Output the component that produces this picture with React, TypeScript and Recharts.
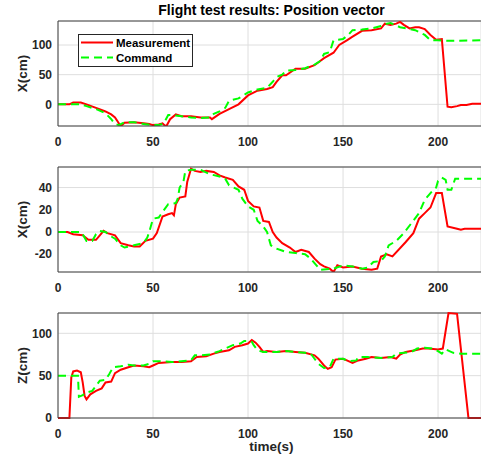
import React from 'react';
import { LineChart, Line, XAxis, YAxis, CartesianGrid, ReferenceLine } from 'recharts';

// ---------- Data (time in s, position in cm) ----------
const xTicks = [0, 50, 100, 150, 200];
const timeMax = 222.6;

const xMeasT = [0,6,8,12,15,20,25,28,30,32,33,35,40,45,48,50,53,55,56,57,59,62,65,70,75,80,81,85,90,95,100,105,110,113,115,118,120,125,130,135,140,145,148,152,155,160,165,170,172,175,178,180,182,185,188,190,193,196,199,202,205,207,210,212,215,218,222.6];
const xMeasV = [0,0,3,3,0,-6,-12,-17,-22,-32,-37,-31,-30,-32,-33,-35,-34,-32,-35,-37,-25,-17,-20,-20,-22,-22,-25,-16,-8,0,15,23,26,29,38,49,49,60,60,66,78,87,100,108,114,124,125,128,136,134,136,139,134,128,130,130,127,117,109,110,-4,-5,-3,-1,-1,1,1];
const xCmdT = [0,12,15,20,25,28,30,32,35,40,45,50,53,55,56,58,60,65,70,75,80,82,85,88,90,95,100,105,110,113,115,118,120,125,130,135,138,140,143,145,150,153,155,160,165,170,173,175,178,180,185,188,190,193,196,200,205,222.6];
const xCmdV = [0,0,-3,-8,-15,-25,-33,-35,-30,-30,-33,-35,-35,-33,-30,-18,-18,-20,-22,-23,-22,-16,-12,-6,6,10,20,25,28,38,46,50,57,58,61,67,73,85,88,108,110,118,125,126,128,132,136,137,133,130,127,125,122,117,108,108,107,108];

const yMeasT = [0,5,8,13,16,20,22,24,26,30,33,37,40,43,46,50,52,55,58,60,61,62,64,67,68,70,72,75,78,82,85,88,92,95,98,100,103,106,108,111,113,115,118,122,125,128,132,135,138,140,143,145,147,150,155,160,165,168,170,173,176,183,187,190,193,196,199,202,205,210,212,214,222.6];
const yMeasV = [0,0,-2,-3,-7,-7,-3,1,-1,-3,-10,-12,-13,-13,-8,-6,-1,14,16,17,15,25,31,32,45,57,55,54,55,54,51,49,47,41,38,28,23,22,10,9,0,-5,-10,-14,-18,-16,-18,-24,-29,-31,-33,-36,-30,-32,-31,-33,-34,-33,-22,-20,-22,-9,-1,12,17,22,35,35,5,3,2,3,3];
const yCmdT = [0,12,13,15,18,20,22,25,28,30,33,35,40,45,47,48,50,53,55,58,62,63,64,66,67,70,75,80,85,88,90,95,97,100,103,105,108,110,112,115,120,125,130,133,136,138,145,150,155,160,163,166,170,172,174,178,182,186,190,193,197,199,200,202,204,205,207,209,222.6];
const yCmdV = [0,0,-2,-8,-8,-2,1,0,-4,-6,-12,-14,-12,-10,-5,0,12,13,18,25,26,30,40,45,55,56,56,52,50,48,42,38,30,23,20,10,5,0,-12,-15,-18,-19,-20,-24,-30,-34,-33,-30,-31,-33,-32,-27,-26,-22,-12,-8,-1,8,17,29,37,40,46,49,47,38,38,48,48];

const zMeasT = [0,6,7,8,10,12,13,14,15,17,20,23,25,28,30,33,37,40,45,48,50,53,60,65,70,73,78,82,85,90,93,97,100,102,104,106,108,110,115,120,125,130,135,137,140,142,144,146,150,152,155,158,162,165,170,175,178,180,183,188,192,195,200,202.5,205.5,210,216,222.6];
const zMeasV = [0,0,48,55,56,54,42,26,22,28,32,35,42,43,53,57,60,62,61,60,62,65,66,66,67,72,73,76,78,80,84,86,88,92,89,84,78,79,78,79,78,77,74,70,62,58,60,69,70,68,65,68,70,72,71,72,70,75,78,80,82,82,81,82,124,123,0,0];
const zCmdT = [0,10.5,11,13,15,18,20,22,25,27,29,33,37,40,45,48,50,55,60,65,70,72,75,80,85,88,92,96,98,100,102,103,105,108,115,120,125,130,133,135,137,140,143,145,150,153,157,158,163,170,176,178,182,186,189,193,197,200,202,204,206,208,212,222.6];
const zCmdV = [50,50,25,27,30,32,38,44,45,52,60,61,63,62,62,64,67,67,66,67,68,74,74,75,79,82,86,88,91,91,90,86,80,78,78,79,78,77,76,70,64,59,60,70,70,67,68,72,72,71,72,76,77,78,82,83,82,79,76,81,79,77,76,76];

const zip = (ts: number[], vs: number[]) =>
  ts.slice(0, Math.min(ts.length, vs.length)).map((t, i) => ({ t, v: vs[i] }));

const AXIS = '#404040';
const TXT = '#262626';
const FONT = '"Liberation Sans", Arial, Helvetica, sans-serif';
const tickStyle = { fontSize: 12, fontWeight: 'bold' as const, fill: TXT, fontFamily: FONT };

const YLabel = (props: any) => {
  const vb = props.viewBox || {};
  const cx = 22;
  const cy = vb.y != null && vb.height != null ? vb.y + vb.height / 2 : 73.5;
  return (
    <text x={cx} y={cy} transform={`rotate(-90 ${cx} ${cy})`} textAnchor="middle" dominantBaseline="central"
      style={{ fontSize: 13.5, fontWeight: 'bold', fill: TXT, fontFamily: FONT }}>{props.text}</text>
  );
};

const XLabel = (props: any) => {
  const vb = props.viewBox || {};
  const cx = vb.x != null && vb.width != null ? vb.x + vb.width / 2 + 2 : 271;
  const y = vb.y != null ? vb.y + 33 : 159;
  return (
    <text x={cx} y={y} textAnchor="middle"
      style={{ fontSize: 13.5, fontWeight: 'bold', fill: TXT, fontFamily: FONT }}>{props.text}</text>
  );
};

type PanelProps = {
  top: number;
  meas: { t: number; v: number }[];
  cmd: { t: number; v: number }[];
  domain: [number, number];
  ticks: number[];
  ylabel: string;
  xlabel?: string;
  clip?: boolean;
};

const Panel = ({ top, meas, cmd, domain, ticks, ylabel, xlabel, clip = true }: PanelProps) => (
  <div style={{ position: 'absolute', left: 0, top }}>
    <LineChart width={481} height={165} margin={{ top: 21, right: 0, bottom: 9, left: 0 }} style={{ overflow: 'visible' }}>
      <CartesianGrid stroke="#dedede" strokeWidth={1} />
      <XAxis dataKey="t" type="number" domain={[0, timeMax]} ticks={xTicks}
        tickLine={false} tickSize={0} tickMargin={11} height={30} stroke={AXIS} tick={tickStyle}
        label={xlabel ? <XLabel text={xlabel} /> : undefined} />
      <YAxis type="number" domain={domain} ticks={ticks} allowDataOverflow={clip} width={58}
        tickLine={false} tickSize={0} tickMargin={6} stroke={AXIS} tick={tickStyle}
        label={<YLabel text={ylabel} />} />
      <ReferenceLine y={domain[1]} stroke={AXIS} strokeWidth={1} />
      <Line data={meas} dataKey="v" type="linear" stroke="#ff0000" strokeWidth={2} dot={false}
        isAnimationActive={false} name="Measurement" />
      <Line data={cmd} dataKey="v" type="linear" stroke="#00ff00" strokeWidth={2} strokeDasharray="8 5"
        dot={false} isAnimationActive={false} name="Command" />
    </LineChart>
  </div>
);

export default function App() {
  return (
    <div style={{ position: 'absolute', left: 0, top: 0, width: 481, height: 458, background: '#fff', overflow: 'hidden', fontFamily: FONT }}>
      <div style={{ position: 'absolute', left: 58, top: 3, width: 427, textAlign: 'center', fontSize: 14, lineHeight: '14px', fontWeight: 'bold', color: '#000' }}>
        Flight test results: Position vector
      </div>
      <Panel top={0} meas={zip(xMeasT, xMeasV)} cmd={zip(xCmdT, xCmdV)} domain={[-36.5, 140.5]} ticks={[0, 50, 100]} ylabel="X(cm)" />
      <Panel top={146} meas={zip(yMeasT, yMeasV)} cmd={zip(yCmdT, yCmdV)} domain={[-36, 58.5]} ticks={[-20, 0, 20, 40]} ylabel="X(cm)" />
      <Panel top={292} meas={zip(zMeasT, zMeasV)} cmd={zip(zCmdT, zCmdV)} domain={[0, 124]} ticks={[0, 50, 100]} ylabel="Z(cm)" xlabel="time(s)" clip={false} />
      <div style={{ position: 'absolute', left: 78, top: 34, width: 115, height: 33, boxSizing: 'border-box', border: `1px solid ${TXT}`, background: '#fff' }}>
        <svg width={113} height={31} style={{ position: 'absolute', left: 0, top: 0 }}>
          <line x1={2} x2={34} y1={7.5} y2={7.5} stroke="#ff0000" strokeWidth={2} />
          <line x1={2} x2={34} y1={22.5} y2={22.5} stroke="#00ff00" strokeWidth={2} strokeDasharray="8 5" />
          <text x={37} y={8} dominantBaseline="central" style={{ fontSize: 11.5, fontWeight: 'bold', fill: '#000', fontFamily: FONT }}>Measurement</text>
          <text x={37} y={23} dominantBaseline="central" style={{ fontSize: 11.5, fontWeight: 'bold', fill: '#000', fontFamily: FONT }}>Command</text>
        </svg>
      </div>
    </div>
  );
}
